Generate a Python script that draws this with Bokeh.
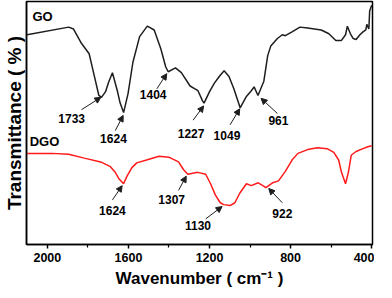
import math
from bokeh.plotting import figure
from bokeh.models import Range1d, FixedTicker, Label, Arrow, NormalHead
from bokeh.embed import file_html
from bokeh.resources import INLINE

# ---- data (wavenumber cm-1, transmittance arb. units) ----
go_wn = [2100, 1895, 1871, 1832, 1794, 1770, 1746, 1733, 1713, 1698, 1679, 1655, 1641,
         1624, 1602, 1578, 1545, 1507, 1473, 1440, 1416, 1404, 1368, 1339, 1296, 1272,
         1257, 1234, 1227, 1200, 1176, 1152, 1128, 1104, 1080, 1049, 1018, 994, 980,
         961, 932, 913, 898, 865, 841, 826, 793, 754, 716, 649, 611, 577, 549, 529,
         520, 505, 491, 477, 458, 443, 429, 424, 414, 410, 400]
go_t = [221, 229, 227, 212, 201, 179, 157, 155, 161, 171, 181, 162, 149,
        139, 159, 192, 219, 230, 226, 206, 187, 182, 186, 181, 167, 164,
        162, 151, 149, 161, 170, 177, 183, 177, 164, 144, 156, 162, 166,
        157, 172, 199, 209, 217, 221, 220, 224, 229, 228, 226, 222, 215, 215, 221,
        230, 222, 217, 216, 221, 224, 226, 232, 227, 246, 252]

dgo_wn = [2100, 1976, 1895, 1818, 1737, 1689, 1665, 1646, 1624, 1607, 1583, 1559, 1511,
          1449, 1401, 1353, 1329, 1307, 1258, 1219, 1195, 1171, 1147, 1130, 1099, 1075,
          1051, 1018, 994, 960, 937, 922, 889, 860, 826, 793, 764, 716, 668, 620, 587,
          563, 549, 529, 515, 501, 477, 443, 419, 400]
dgo_t = [96, 96, 95, 91, 87, 82, 76, 69, 64, 72, 81, 86, 89,
         93, 92, 87, 79, 74, 76, 74, 64, 52, 44, 42, 41, 44,
         54, 64, 62, 65, 62, 60, 65, 67, 77, 89, 96, 100, 102, 101, 97,
         89, 76, 64, 76, 94, 98, 101, 103, 104]

x_ticks = [2000, 1600, 1200, 800, 400]
x_minor = [1800, 1400, 1000, 600]

go_peaks = ["1733", "1624", "1404", "1227", "1049", "961"]
dgo_peaks = ["1624", "1307", "1130", "922"]

# annotation placement (text centre, arrow tail, arrow head) in data units
go_text_x = [1880, 1674, 1478, 1291, 1114, 860]
go_text_y = [133, 112, 158, 117, 115, 131]
go_tail_x = [1832, 1665, 1460, 1281, 1099, 865]
go_tail_y = [142, 120, 164, 131, 126, 138]
go_head_x = [1736, 1626, 1411, 1229, 1051, 946]
go_head_y = [155, 136, 180, 146, 143, 154]

dgo_text_x = [1679, 1387, 1257, 841]
dgo_text_y = [36, 47, 20, 33]
dgo_tail_x = [1679, 1353, 1219, 841]
dgo_tail_y = [47, 57, 27, 44]
dgo_head_x = [1631, 1315, 1138, 908]
dgo_head_y = [62, 72, 40, 59]

FONT = "Liberation Sans"
BLACK = "#1e1e1e"
RED = "#ff1a1a"

p = figure(width=374, height=290, output_backend="svg", toolbar_location=None,
           x_range=Range1d(2103, 396), y_range=Range1d(0, 256),
           y_axis_location="left", min_border_left=0, min_border_right=2,
           min_border_top=1, min_border_bottom=0)
p.grid.visible = False
p.outline_line_color = "black"
p.outline_line_width = 1.5
p.background_fill_color = "white"
p.border_fill_color = "white"

ax = p.xaxis[0]
ax.ticker = FixedTicker(ticks=x_ticks, minor_ticks=x_minor)
ax.axis_line_width = 1.5
ax.axis_line_color = "black"
ax.major_tick_in = 0
ax.major_tick_out = 4
ax.minor_tick_in = 0
ax.minor_tick_out = 3
ax.major_tick_line_width = 1.5
ax.minor_tick_line_width = 1.2
ax.major_label_standoff = 4
ax.major_label_text_font = FONT
ax.major_label_text_font_style = "bold"
ax.major_label_text_font_size = "12.5px"
ax.major_label_text_color = "black"
ax.axis_label = "Wavenumber ( cm\u207b\u00b9 )"
ax.axis_label_text_font = FONT
ax.axis_label_text_font_style = "bold"
ax.axis_label_text_font_size = "17px"
ax.axis_label_text_color = "black"
ax.axis_label_standoff = 4

ay = p.yaxis[0]
ay.ticker = FixedTicker(ticks=[])
ay.major_tick_in = 0
ay.major_tick_out = 0
ay.minor_tick_in = 0
ay.minor_tick_out = 0
ay.major_label_standoff = 0
ay.axis_line_width = 1.5
ay.axis_line_color = "black"
ay.axis_label = "Transmittance ( % )"
ay.axis_label_text_font = FONT
ay.axis_label_text_font_style = "bold"
ay.axis_label_text_font_size = "19px"
ay.axis_label_text_color = "black"
ay.axis_label_standoff = 2

p.line(go_wn, go_t, line_color=BLACK, line_width=1.5)
p.line(dgo_wn, dgo_t, line_color=RED, line_width=1.5)

def add_text(x, y, txt, size, style="bold", align="center", baseline="middle", angle=0):
    p.add_layout(Label(x=x, y=y, text=txt, text_font=FONT, text_font_style=style,
                       text_font_size=size, text_align=align, text_baseline=baseline,
                       text_color="black", angle=angle))

def annotate(texts, tx, ty, ax_, ay_, hx, hy):
    for t, a, b, c, d, e, f in zip(texts, tx, ty, ax_, ay_, hx, hy):
        add_text(a, b, t, "12px")
        p.add_layout(Arrow(x_start=c, y_start=d, x_end=e, y_end=f, line_width=1,
                           line_color=BLACK,
                           end=NormalHead(size=6, fill_color=BLACK, line_color=BLACK)))

annotate(go_peaks, go_text_x, go_text_y, go_tail_x, go_tail_y, go_head_x, go_head_y)
annotate(dgo_peaks, dgo_text_x, dgo_text_y, dgo_tail_x, dgo_tail_y, dgo_head_x, dgo_head_y)

add_text(2024, 240, "GO", "13px")
add_text(2014, 108, "DGO", "13px")

open("out.html", "w").write(file_html(p, INLINE))
